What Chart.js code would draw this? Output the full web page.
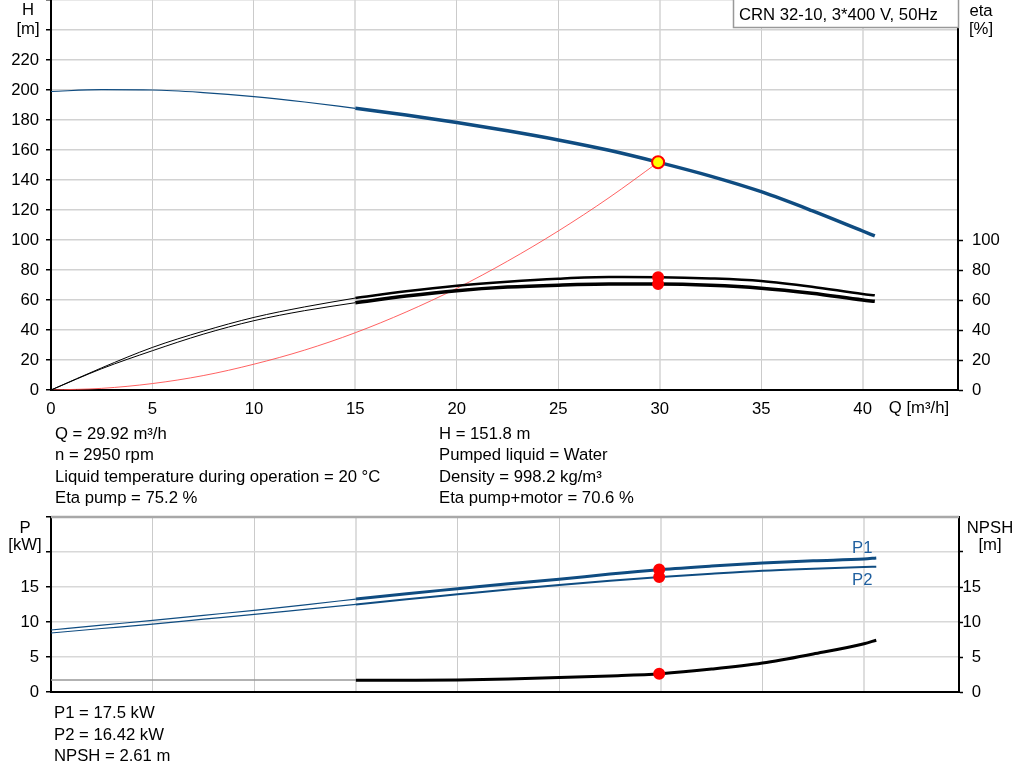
<!DOCTYPE html>
<html>
<head>
<meta charset="utf-8">
<script src="https://cdn.jsdelivr.net/npm/chart.js@4.4.1/dist/chart.umd.min.js"></script>
<style>
  body { margin: 0; background: #fff; }
  canvas { position: absolute; left: 0; }
  #top { top: 0; }
  #bottom { top: 510px; }
</style>
</head>
<body>
<canvas id="top" width="1024" height="510"></canvas>
<canvas id="bottom" width="1024" height="271"></canvas>
<script>
// flow values (m3/h) for the thin (outside range) and thick (operating range) parts
var qThin = [0, 2.5, 5, 7.5, 10, 12.5, 15];
var qThick = [15, 17.5, 20, 22.5, 25, 27.5, 30, 32.5, 35, 37.5, 40, 40.6];

// head H [m]
var headThin = [199.0, 200.2, 200.0, 198.3, 195.6, 192.0, 187.8];
var headThick = [187.8, 183.4, 178.4, 172.8, 166.7, 159.8, 151.6, 142.6, 132.2, 119.6, 106.0, 102.7];

// eta pump / eta pump+motor [%]
var etaPumpThin = [0, 14.8, 28.4, 39.2, 48.4, 55.4, 61.3];
var etaPumpThick = [61.3, 65.8, 69.5, 72.2, 74.2, 75.3, 75.2, 74.4, 72.7, 68.9, 64.0, 63.1];
var etaTotalThin = [0, 14.2, 26.2, 37.2, 46.2, 52.9, 58.2];
var etaTotalThick = [58.2, 62.6, 66.2, 68.6, 69.9, 70.6, 70.6, 69.8, 67.9, 64.5, 60.0, 59.1];

// system curve through duty point
var qSys = [0, 2.5, 5, 7.5, 10, 12.5, 15, 17.5, 20, 22.5, 25, 27.5, 29.92];
var headSys = [0, 1.1, 4.3, 9.6, 17.2, 26.6, 38.2, 52.0, 67.8, 85.9, 106.0, 128.2, 151.8];

// power P1 / P2 [kW]
var p1Thin = [8.86, 9.55, 10.23, 10.95, 11.66, 12.45, 13.28];
var p1Thick = [13.28, 14.05, 14.75, 15.45, 16.1, 16.85, 17.5, 18.0, 18.43, 18.75, 19.0, 19.14];
var p2Thin = [8.43, 9.07, 9.71, 10.4, 11.09, 11.8, 12.51];
var p2Thick = [12.51, 13.25, 13.95, 14.65, 15.3, 15.9, 16.42, 16.9, 17.33, 17.62, 17.86, 17.9];

// NPSH [m]
var npshThin = [1.7, 1.7, 1.7, 1.7, 1.7, 1.7, 1.7];
var npshThick = [1.68, 1.69, 1.73, 1.87, 2.06, 2.3, 2.62, 3.27, 4.13, 5.43, 6.9, 7.4];

// duty point
var dutyQ = 29.92;
var dutyH = 151.8;
var dutyEta = [75.2, 70.6];
var dutyP = [17.5, 16.42];
var dutyNpsh = 2.61;

var infoLeft = ['Q = 29.92 m³/h', 'n = 2950 rpm', 'Liquid temperature during operation = 20 °C', 'Eta pump = 75.2 %'];
var infoRight = ['H = 151.8 m', 'Pumped liquid = Water', 'Density = 998.2 kg/m³', 'Eta pump+motor = 70.6 %'];
var infoBottom = ['P1 = 17.5 kW', 'P2 = 16.42 kW', 'NPSH = 2.61 m'];

var BLUE = '#0f4c81';
var FONT = "'Liberation Sans', Arial, sans-serif";

Chart.defaults.font.family = FONT;
Chart.defaults.font.size = 16.7;
Chart.defaults.color = '#000';

function pts(xs, ys) {
  return xs.map(function(x, i) { return {x: x, y: ys[i]}; });
}

function line(xs, ys, color, width, axis) {
  return {
    data: pts(xs, ys), yAxisID: axis || 'y',
    borderColor: color, borderWidth: width,
    showLine: true, pointRadius: 0, fill: false,
    cubicInterpolationMode: 'monotone'
  };
}

function dots(xs, ys, fillc, stroke, r, axis) {
  return {
    data: pts(xs, ys), yAxisID: axis || 'y', showLine: false,
    pointRadius: r, pointBackgroundColor: fillc,
    pointBorderColor: stroke, pointBorderWidth: 2
  };
}

function noPad(scale) {
  scale.paddingTop = 0; scale.paddingBottom = 0;
  scale.paddingLeft = 0; scale.paddingRight = 0;
}

function xGrid() {
  return {
    color: function(c) { return [15, 30, 40].indexOf(c.tick && c.tick.value) >= 0 ? '#dedede' : '#cbcbcb'; },
    lineWidth: function(c) { return [15, 30, 40].indexOf(c.tick && c.tick.value) >= 0 ? 2 : 1; },
    drawTicks: false
  };
}

var textPlugin = {
  id: 'texts',
  afterDraw: function(chart, args, opts) {
    var ctx = chart.ctx;
    ctx.save();
    if (opts.box) {
      var b = opts.box;
      ctx.fillStyle = '#fff';
      ctx.fillRect(b.x, b.y, b.w, b.h);
      ctx.strokeStyle = '#999';
      ctx.lineWidth = 1.5;
      ctx.strokeRect(b.x + 0.5, b.y - 1, b.w, b.h + 0.5);
    }
    if (opts.topBorder) {
      var a = chart.chartArea;
      ctx.strokeStyle = '#a8a8a8';
      ctx.lineWidth = 2.5;
      ctx.beginPath();
      ctx.moveTo(a.left, a.top);
      ctx.lineTo(a.right, a.top);
      ctx.stroke();
    }
    ctx.textBaseline = 'alphabetic';
    ctx.font = '16.7px ' + FONT;
    opts.items.forEach(function(t) {
      ctx.fillStyle = t.color || '#000';
      ctx.textAlign = t.align || 'left';
      ctx.fillText(t.text, t.x, t.y);
    });
    ctx.restore();
  }
};

var topItems = [
  {text: 'H', x: 28, y: 15, align: 'center'},
  {text: '[m]', x: 28, y: 34, align: 'center'},
  {text: 'eta', x: 981, y: 16, align: 'center'},
  {text: '[%]', x: 981, y: 34, align: 'center'},
  {text: 'Q [m³/h]', x: 919, y: 413, align: 'center'},
  {text: 'CRN 32-10, 3*400 V, 50Hz', x: 739, y: 20}
];
infoLeft.forEach(function(s, i) { topItems.push({text: s, x: 55, y: 439 + i * 21.4}); });
infoRight.forEach(function(s, i) { topItems.push({text: s, x: 439, y: 439 + i * 21.4}); });

new Chart(document.getElementById('top'), {
  type: 'scatter',
  data: {
    datasets: [
      dots([dutyQ], [dutyH], '#ffff00', '#ff0000', 6),
      dots([dutyQ, dutyQ], dutyEta, '#ff0000', '#ff0000', 5, 'y2'),
      line(qThick, headThick, BLUE, 3.5),
      line(qThin, headThin, BLUE, 1.2),
      line(qThick, etaPumpThick, '#000', 2.5, 'y2'),
      line(qThin, etaPumpThin, '#000', 1, 'y2'),
      line(qThick, etaTotalThick, '#000', 3.5, 'y2'),
      line(qThin, etaTotalThin, '#000', 1, 'y2'),
      line(qSys, headSys, 'rgba(255,70,70,0.85)', 1)
    ]
  },
  options: {
    responsive: false, animation: false, devicePixelRatio: 1,
    layout: {padding: 0, autoPadding: false},
    plugins: {
      legend: {display: false}, tooltip: {enabled: false},
      texts: {items: topItems, box: {x: 733, y: 0, w: 225, h: 28}}
    },
    scales: {
      x: {
        type: 'linear', min: 0, max: 44.7,
        ticks: {stepSize: 5, includeBounds: false, padding: 9, maxTicksLimit: 100},
        grid: xGrid(),
        border: {color: '#000', width: 2},
        afterFit: function(s) { s.height = 120; noPad(s); }
      },
      y: {
        position: 'left', min: 0, max: 260,
        ticks: {stepSize: 20, padding: 7, maxTicksLimit: 100,
          callback: function(v) { return v <= 220 ? v : ''; }},
        grid: {color: '#d2d2d2', lineWidth: 1.5, tickLength: 5, tickColor: '#000', tickWidth: 1.5},
        border: {color: '#000', width: 2},
        afterFit: function(s) { s.width = 51; noPad(s); }
      },
      y2: {
        position: 'right', min: 0, max: 260,
        ticks: {stepSize: 20, padding: 9, maxTicksLimit: 100,
          callback: function(v) { return v <= 100 ? v : ''; }},
        grid: {drawOnChartArea: false, tickLength: 5, tickWidth: 1.5,
          tickColor: function(c) { return c.tick && c.tick.value <= 100 ? '#000' : 'rgba(0,0,0,0)'; }},
        border: {color: '#000', width: 2},
        afterFit: function(s) { s.width = 66; noPad(s); }
      }
    }
  },
  plugins: [textPlugin]
});

var bottomItems = [
  {text: 'P', x: 25, y: 533, align: 'center'},
  {text: '[kW]', x: 25, y: 550, align: 'center'},
  {text: 'NPSH', x: 990, y: 533, align: 'center'},
  {text: '[m]', x: 990, y: 550, align: 'center'},
  {text: 'P1', x: 852, y: 553, color: '#1f5f9f'},
  {text: 'P2', x: 852, y: 585, color: '#1f5f9f'}
];
infoBottom.forEach(function(s, i) { bottomItems.push({text: s, x: 54, y: 718 + i * 21.5}); });
bottomItems.forEach(function(t) { t.y -= 510; });

new Chart(document.getElementById('bottom'), {
  type: 'scatter',
  data: {
    datasets: [
      dots([dutyQ, dutyQ], dutyP, '#ff0000', '#ff0000', 5),
      dots([dutyQ], [dutyNpsh], '#ff0000', '#ff0000', 5, 'y2'),
      line(qThick, p1Thick, BLUE, 3),
      line(qThin, p1Thin, BLUE, 1.2),
      line(qThick, p2Thick, BLUE, 2),
      line(qThin, p2Thin, BLUE, 1.2),
      line(qThick, npshThick, '#000', 3, 'y2'),
      line(qThin, npshThin, '#999', 1.5, 'y2')
    ]
  },
  options: {
    responsive: false, animation: false, devicePixelRatio: 1,
    layout: {padding: {top: 7, right: 43, left: 0, bottom: 0}, autoPadding: false},
    plugins: {
      legend: {display: false}, tooltip: {enabled: false},
      texts: {items: bottomItems, topBorder: true}
    },
    scales: {
      x: {
        type: 'linear', min: 0, max: 44.67,
        ticks: {display: false, stepSize: 5, includeBounds: false, maxTicksLimit: 100},
        grid: xGrid(),
        border: {color: '#000', width: 2},
        afterFit: function(s) { s.height = 89; noPad(s); }
      },
      y: {
        position: 'left', min: 0, max: 25,
        ticks: {stepSize: 5, padding: 7, maxTicksLimit: 100,
          callback: function(v) { return v <= 15 ? v : ''; }},
        grid: {color: '#d8d8d8', lineWidth: 1.5, tickLength: 5, tickColor: '#000', tickWidth: 1.5},
        border: {color: '#000', width: 2},
        afterFit: function(s) { s.width = 51; noPad(s); }
      },
      y2: {
        position: 'right', min: 0, max: 25,
        ticks: {stepSize: 5, padding: 4, crossAlign: 'far', maxTicksLimit: 100,
          callback: function(v) { return v <= 15 ? v : ''; }},
        grid: {drawOnChartArea: false, tickLength: 4, tickWidth: 1.5,
          tickColor: function(c) { return c.tick && c.tick.value < 25 ? '#000' : 'rgba(0,0,0,0)'; }},
        border: {color: '#000', width: 2},
        afterFit: function(s) { s.width = 22; noPad(s); }
      }
    }
  },
  plugins: [textPlugin]
});
</script>
</body>
</html>
